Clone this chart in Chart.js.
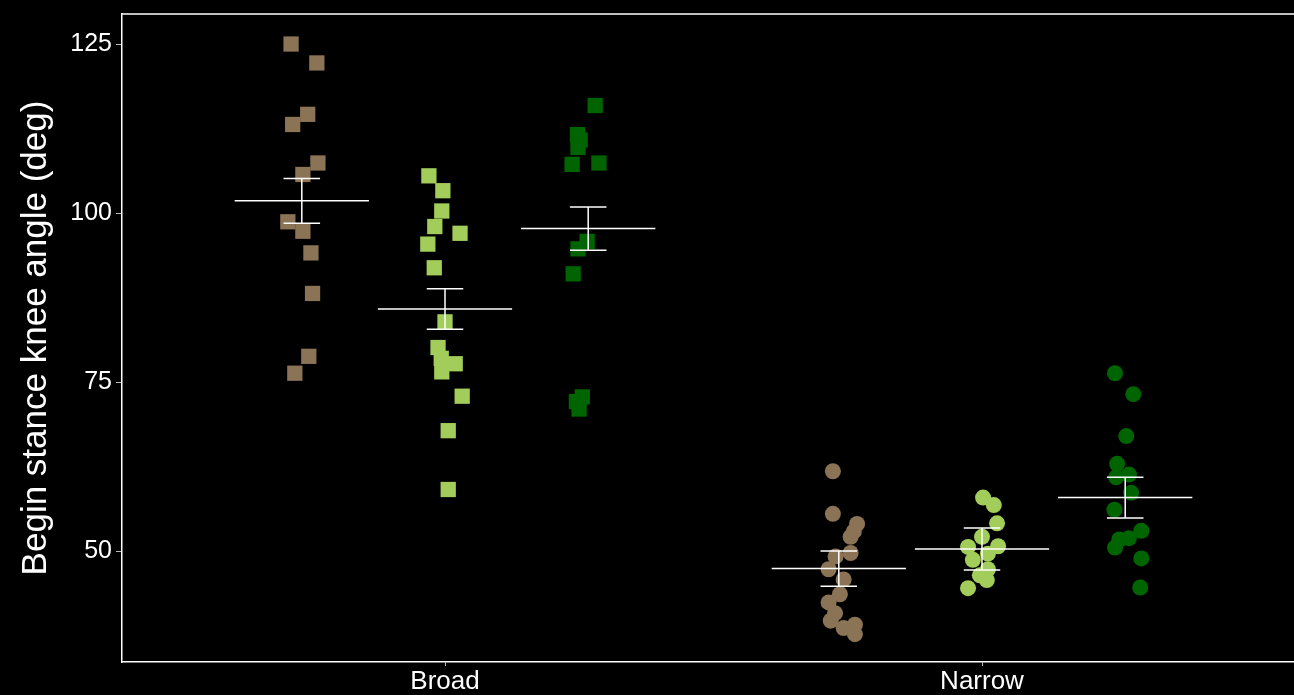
<!DOCTYPE html>
<html>
<head>
<meta charset="utf-8">
<script src="https://cdn.jsdelivr.net/npm/chart.js@4.4.1/dist/chart.umd.min.js"></script>
<style>
  html, body { margin: 0; padding: 0; background: #000; }
  canvas { display: block; background: #000; }
</style>
</head>
<body>
<canvas id="chart" width="1294" height="695"></canvas>
<script>
// Stance categories on the x axis and the y tick values
const categories = ['Broad', 'Narrow'];
const yTicks = [50, 75, 100, 125];

// Individual knee angles (deg), per condition and stance
const tanBroad = [125.0, 122.2, 114.6, 113.1, 107.4, 105.7, 98.7, 97.3, 94.1, 88.1, 78.8, 76.3];
const lightBroad = [105.5, 103.3, 100.3, 98.0, 97.0, 95.4, 91.9, 83.9, 80.1, 78.5, 77.7, 76.5, 72.9, 67.8, 59.1];
const darkBroad = [115.9, 111.6, 110.8, 109.7, 107.2, 107.4, 95.8, 94.7, 91.0, 72.8, 72.1, 71.0];
const tanNarrow = [61.8, 55.5, 54.0, 52.9, 52.1, 49.7, 49.2, 47.3, 45.8, 43.6, 42.4, 40.8, 39.7, 38.6, 39.1, 37.7];
const lightNarrow = [57.9, 56.8, 54.1, 52.1, 50.6, 50.7, 49.6, 48.7, 47.3, 46.4, 45.7, 44.5];
const darkNarrow = [76.3, 73.2, 67.0, 62.9, 60.9, 61.3, 58.6, 56.1, 53.0, 51.9, 51.7, 50.5, 48.9, 44.6];

// Horizontal jitter of each point (category units)
const tanBroadJitter = [-0.020, 0.028, 0.011, -0.017, 0.030, 0.002, -0.026, 0.002, 0.017, 0.020, 0.013, -0.013];
const lightBroadJitter = [-0.030, -0.004, -0.006, -0.019, 0.028, -0.032, -0.020, 0.000, -0.013, -0.007, 0.019, -0.006, 0.032, 0.006, 0.006];
const darkBroadJitter = [0.013, -0.020, -0.015, -0.019, -0.030, 0.020, -0.002, -0.019, -0.028, -0.011, -0.022, -0.017];
const tanNarrowJitter = [-0.011, -0.011, 0.034, 0.028, 0.022, 0.022, -0.006, -0.019, 0.009, 0.002, -0.019, -0.007, -0.015, 0.009, 0.030, 0.030];
const lightNarrowJitter = [0.002, 0.022, 0.028, 0.000, -0.026, 0.030, 0.011, -0.017, 0.011, -0.004, 0.009, -0.026];
const darkNarrowJitter = [-0.019, 0.015, 0.002, -0.015, -0.017, 0.007, 0.011, -0.020, 0.030, 0.007, -0.011, -0.019, 0.030, 0.028];

// Group means and standard errors, order: tan, light green, dark green
const meansBroad = [101.8, 85.8, 97.7];
const meansNarrow = [47.4, 50.3, 57.9];
const seBroad = [3.3, 3.0, 3.2];
const seNarrow = [2.6, 3.1, 3.0];

const colors = ['#8B7355', '#A2CD5A', '#006400'];
const dodge = 0.8 / 3;
const meanHalf = 0.125;
const capHalf = 0.034;

function pointsFor(catIndex, groupIndex, values, jitter) {
  const centre = catIndex + 1 + (groupIndex - 1) * dodge;
  return values.map((v, i) => ({ x: centre + jitter[i], y: v }));
}

const groups = [
  [tanBroad, tanBroadJitter, tanNarrow, tanNarrowJitter],
  [lightBroad, lightBroadJitter, lightNarrow, lightNarrowJitter],
  [darkBroad, darkBroadJitter, darkNarrow, darkNarrowJitter]
];

const datasets = [];

// Mean bars and error bars, drawn on top of the points
const summary = [];
[[meansBroad, seBroad], [meansNarrow, seNarrow]].forEach(([means, ses], c) => {
  means.forEach((m, g) => {
    const x = c + 1 + (g - 1) * dodge;
    const se = ses[g];
    summary.push({ x: x - meanHalf, y: m }, { x: x + meanHalf, y: m }, { x: x, y: null });
    summary.push({ x: x, y: m - se }, { x: x, y: m + se }, { x: x, y: null });
    summary.push({ x: x - capHalf, y: m + se }, { x: x + capHalf, y: m + se }, { x: x, y: null });
    summary.push({ x: x - capHalf, y: m - se }, { x: x + capHalf, y: m - se }, { x: x, y: null });
  });
});
datasets.push({
  type: 'scatter',
  data: summary,
  showLine: true,
  spanGaps: false,
  borderColor: '#ffffff',
  borderWidth: 1.5,
  pointRadius: 0,
  order: 0
});

groups.forEach((grp, g) => {
  datasets.push({
    type: 'scatter',
    data: pointsFor(0, g, grp[0], grp[1]),
    pointStyle: 'rect',
    pointRadius: 10.8,
    backgroundColor: colors[g],
    borderWidth: 0,
    order: 1
  });
  datasets.push({
    type: 'scatter',
    data: pointsFor(1, g, grp[2], grp[3]),
    pointStyle: 'circle',
    pointRadius: 8,
    backgroundColor: colors[g],
    borderWidth: 0,
    order: 1
  });
});

// Top edge of the panel frame
const frameTop = {
  id: 'frameTop',
  afterDraw(chart) {
    const { ctx, chartArea } = chart;
    ctx.save();
    ctx.strokeStyle = '#ffffff';
    ctx.lineWidth = 1.5;
    ctx.beginPath();
    ctx.moveTo(chartArea.left, chartArea.top);
    ctx.lineTo(chartArea.right, chartArea.top);
    ctx.stroke();
    ctx.restore();
  }
};

new Chart(document.getElementById('chart'), {
  type: 'scatter',
  data: { datasets },
  plugins: [frameTop],
  options: {
    responsive: false,
    animation: false,
    events: [],
    layout: { autoPadding: false, padding: { top: 14, right: 0, bottom: 0, left: 0 } },
    plugins: { legend: { display: false }, tooltip: { enabled: false } },
    scales: {
      x: {
        type: 'linear',
        min: 0.3985,
        max: 2.581,
        afterBuildTicks: s => { s.ticks = categories.map((_, i) => ({ value: i + 1 })); },
        afterFit: s => { s.height = 33; s.paddingLeft = 0; s.paddingRight = 0; },
        border: { color: '#ffffff', width: 1.5 },
        grid: { drawOnChartArea: false, drawTicks: true, tickLength: 4, tickColor: '#bbbbbb', tickWidth: 1 },
        ticks: {
          color: '#ffffff',
          padding: 0,
          maxRotation: 0,
          font: { family: 'Liberation Sans', size: 26 },
          callback: (v) => categories[Math.round(v) - 1]
        }
      },
      y: {
        type: 'linear',
        min: 33.58,
        max: 129.44,
        afterBuildTicks: s => { s.ticks = yTicks.map(v => ({ value: v })); },
        afterFit: s => { s.width = 122; s.paddingTop = 0; s.paddingBottom = 0; },
        border: { color: '#ffffff', width: 1.5 },
        grid: { drawOnChartArea: false, drawTicks: true, tickLength: 6, tickColor: '#bbbbbb', tickWidth: 1 },
        ticks: {
          color: '#ffffff',
          padding: 4,
          font: { family: 'Liberation Sans', size: 25 }
        },
        title: {
          display: true,
          text: 'Begin stance knee angle (deg)',
          color: '#ffffff',
          font: { family: 'Liberation Sans', size: 35, lineHeight: 1.2 },
          padding: { top: 15, bottom: 0 }
        }
      }
    }
  }
});
</script>
</body>
</html>
